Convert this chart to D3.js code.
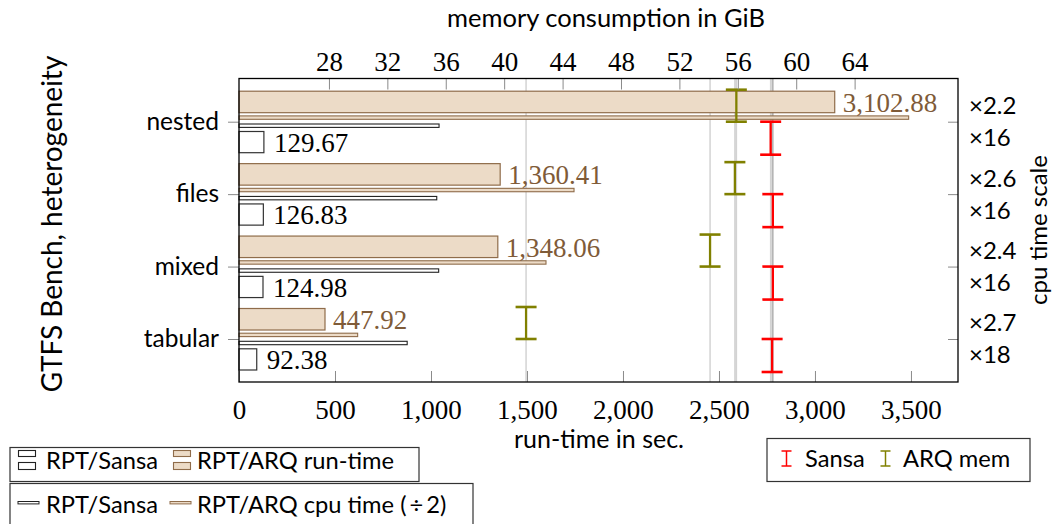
<!DOCTYPE html>
<html>
<head>
<meta charset="utf-8">
<script src="https://cdn.jsdelivr.net/npm/d3@7"></script>
<style>
	body{margin:0;background:#fff;}
	svg{display:block;}
	.sans{font-family:Lato, "Open Sans", sans-serif;}
	.serif{font-family:"Liberation Serif", serif;}
</style>
</head>
<body>
<svg width="1060" height="524"></svg>
<script>
(()=>{
	//data
	let categories = ["nested", "files", "mixed", "tabular"];
	let arqRun = [3102.88, 1360.41, 1348.06, 447.92];
	let sansaRun = [129.67, 126.83, 124.98, 92.38];
	let arqCpuHalf = [3488, 1745, 1599, 618];
	let sansaCpuHalf = [1042, 1030, 1040, 876];
	let arqMem = [55.9, 55.8, 54.1, 41.5];
	let sansaMem = [58.25, 58.4, 58.4, 58.35];
	let arqScale = ["2.2", "2.6", "2.4", "2.7"];
	let sansaScale = ["16", "16", "16", "18"];
	let runTicks = [0, 500, 1000, 1500, 2000, 2500, 3000, 3500];
	let memTicks = [28, 32, 36, 40, 44, 48, 52, 56, 60, 64];

	//colours
	let tanFill = "#ecdbc7",
		tanStroke = "#8f6c4a",
		tanText = "#7f5b38",
		red = "#ff0000",
		olive = "#808000";

	let svg = d3.select("svg");
	let left = 239, right = 958, top = 78.5, bottom = 382;

	let x = d3.scaleLinear().domain([0, 3745]).range([left, right]);
	let xMem = d3.scaleLinear().domain([21.84, 71.08]).range([left, right]);
	let y = d3.scalePoint().domain(categories).range([121.7, 339]);
	let fmt = d3.format(",.2f");

	//memory lines behind everything
	let memLines = svg.append("g");
	arqMem.concat(sansaMem).forEach(m => {
		memLines.append("line")
			.attr("x1", xMem(m)).attr("x2", xMem(m))
			.attr("y1", top).attr("y2", bottom)
			.attr("stroke", "#a8a8a8").attr("stroke-opacity", 0.5).attr("stroke-width", 1.5);
	});

	//bars
	let bars = svg.append("g");
	categories.forEach((c, i) => {
		let cy = y(c);
		//ARQ run-time
		bars.append("rect")
			.attr("x", x(0)).attr("y", cy - 30.5)
			.attr("width", x(arqRun[i]) - x(0)).attr("height", 21.5)
			.attr("fill", tanFill).attr("stroke", tanStroke).attr("stroke-width", 1.2);
		//ARQ cpu time
		bars.append("rect")
			.attr("x", x(0)).attr("y", cy - 5.8)
			.attr("width", x(arqCpuHalf[i]) - x(0)).attr("height", 3.4)
			.attr("fill", tanFill).attr("stroke", tanStroke).attr("stroke-width", 1.1);
		//Sansa cpu time
		bars.append("rect")
			.attr("x", x(0)).attr("y", cy + 2.3)
			.attr("width", x(sansaCpuHalf[i]) - x(0)).attr("height", 3.4)
			.attr("fill", "#fff").attr("stroke", "#222").attr("stroke-width", 1.1);
		//Sansa run-time
		bars.append("rect")
			.attr("x", x(0)).attr("y", cy + 9.8)
			.attr("width", x(sansaRun[i]) - x(0)).attr("height", 21.2)
			.attr("fill", "#fff").attr("stroke", "#333").attr("stroke-width", 1.2);

		bars.append("text").attr("class", "serif")
			.attr("x", x(arqRun[i]) + 8).attr("y", cy - 19.5)
			.attr("dy", "0.35em")
			.attr("font-size", 27).attr("fill", tanText)
			.text(fmt(arqRun[i]));
		bars.append("text").attr("class", "serif")
			.attr("x", x(sansaRun[i]) + 10).attr("y", cy + 20.5)
			.attr("dy", "0.35em")
			.attr("font-size", 27).attr("fill", "#000")
			.text(fmt(sansaRun[i]));
	});

	//memory markers
	function ibar(g, cx, y1, y2, color){
		g.append("line").attr("x1", cx).attr("x2", cx).attr("y1", y1).attr("y2", y2)
			.attr("stroke", color).attr("stroke-width", 2.3);
		[y1, y2].forEach(yy => {
			g.append("line").attr("x1", cx - 10.5).attr("x2", cx + 10.5).attr("y1", yy).attr("y2", yy)
				.attr("stroke", color).attr("stroke-width", 2.6);
		});
	}
	let marks = svg.append("g");
	categories.forEach((c, i) => {
		ibar(marks, xMem(arqMem[i]), y(c) - 32, y(c), olive);
		ibar(marks, xMem(sansaMem[i]), y(c), y(c) + 33, red);
	});

	//axes
	function styleAxis(g){
		g.select(".domain").remove();
		g.selectAll(".tick line").attr("stroke", "#8a8a8a").attr("stroke-width", 1);
		g.selectAll("text").attr("fill", "#000");
	}
	svg.append("g")
		.attr("transform", "translate(0," + bottom + ")")
		.call(d3.axisBottom(x).tickValues(runTicks).tickFormat(d3.format(",")).tickSizeInner(-11).tickPadding(18))
		.call(styleAxis)
		.selectAll("text").attr("class", "serif").attr("font-size", 27);

	svg.append("g")
		.attr("transform", "translate(0," + top + ")")
		.call(d3.axisTop(xMem).tickValues(memTicks).tickSizeInner(-11).tickPadding(8))
		.call(styleAxis)
		.selectAll("text").attr("class", "serif").attr("font-size", 27);

	svg.append("g")
		.attr("transform", "translate(" + left + ",0)")
		.call(d3.axisLeft(y).tickSizeInner(11).tickPadding(9))
		.call(styleAxis)
		.selectAll("text").attr("class", "sans").attr("font-size", 24.5);

	svg.append("g")
		.attr("transform", "translate(" + right + ",0)")
		.call(d3.axisRight(y).tickSizeInner(-10).tickFormat(""))
		.call(styleAxis);

	//frame
	svg.append("rect")
		.attr("x", left).attr("y", top)
		.attr("width", right - left).attr("height", bottom - top)
		.attr("fill", "none").attr("stroke", "#000").attr("stroke-width", 1.3);

	//right-hand scale labels
	let scaleG = svg.append("g").attr("class", "sans").attr("font-size", 24);
	categories.forEach((c, i) => {
		scaleG.append("text").attr("x", 969).attr("y", y(c) - 16).attr("dy", "0.35em").text("\u00d7" + arqScale[i]);
		scaleG.append("text").attr("x", 969).attr("y", y(c) + 16).attr("dy", "0.35em").text("\u00d7" + sansaScale[i]);
	});

	//titles
	svg.append("text").attr("class", "sans").attr("font-size", 25.5)
		.attr("x", 606).attr("y", 27).attr("text-anchor", "middle")
		.text("memory consumption in GiB");
	svg.append("text").attr("class", "sans").attr("font-size", 25)
		.attr("x", 599).attr("y", 448).attr("text-anchor", "middle")
		.text("run-time in sec.");
	svg.append("text").attr("class", "sans").attr("font-size", 28)
		.attr("transform", "translate(62,224) rotate(-90)").attr("text-anchor", "middle")
		.text("GTFS Bench, heterogeneity");
	svg.append("text").attr("class", "sans").attr("font-size", 24)
		.attr("transform", "translate(1047,230) rotate(-90)").attr("text-anchor", "middle")
		.text("cpu time scale");

	//legends
	let lg = svg.append("g").attr("class", "sans").attr("font-size", 23.7);
	lg.append("rect").attr("x", 10).attr("y", 447.5).attr("width", 409).attr("height", 34)
		.attr("fill", "#fff").attr("stroke", "#333").attr("stroke-width", 1.2);
	lg.append("rect").attr("x", 10).attr("y", 483.5).attr("width", 463).attr("height", 50)
		.attr("fill", "#fff").attr("stroke", "#333").attr("stroke-width", 1.2);
	lg.append("rect").attr("x", 767).attr("y", 438.5).attr("width", 263).attr("height", 43)
		.attr("fill", "#fff").attr("stroke", "#333").attr("stroke-width", 1.2);

	function barIcon(px, fill, stroke){
		lg.append("rect").attr("x", px).attr("y", 450.5).attr("width", 17).attr("height", 6)
			.attr("fill", fill).attr("stroke", stroke).attr("stroke-width", 1.1);
		lg.append("rect").attr("x", px).attr("y", 462.5).attr("width", 17).attr("height", 7)
			.attr("fill", fill).attr("stroke", stroke).attr("stroke-width", 1.1);
	}
	barIcon(18.5, "#fff", "#222");
	lg.append("text").attr("x", 46).attr("y", 468.5).text("RPT/Sansa");
	barIcon(173.5, tanFill, tanStroke);
	lg.append("text").attr("x", 197).attr("y", 468.5).text("RPT/ARQ run-time");

	lg.append("rect").attr("x", 18).attr("y", 501.5).attr("width", 21).attr("height", 2.4)
		.attr("fill", "#fff").attr("stroke", "#222").attr("stroke-width", 1);
	lg.append("text").attr("x", 46).attr("y", 512.5).text("RPT/Sansa");
	lg.append("rect").attr("x", 170).attr("y", 501.5).attr("width", 21).attr("height", 2.4)
		.attr("fill", tanFill).attr("stroke", tanStroke).attr("stroke-width", 1);
	lg.append("text").attr("x", 197).attr("y", 512.5).text("RPT/ARQ cpu time (\u2009\u00f7\u20092)");

	function iconI(cx, color){
		lg.append("line").attr("x1", cx).attr("x2", cx).attr("y1", 451).attr("y2", 466).attr("stroke", color).attr("stroke-width", 1.5);
		[451, 466].forEach(yy => lg.append("line").attr("x1", cx - 5).attr("x2", cx + 5).attr("y1", yy).attr("y2", yy).attr("stroke", color).attr("stroke-width", 1.5));
	}
	iconI(786.5, red);
	lg.append("text").attr("x", 805).attr("y", 466.7).text("Sansa");
	iconI(885.5, olive);
	lg.append("text").attr("x", 903).attr("y", 466.7).text("ARQ mem");
})();
</script>
</body>
</html>
